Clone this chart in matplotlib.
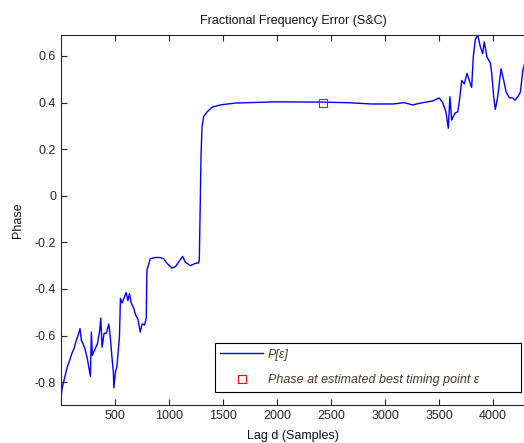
import matplotlib
matplotlib.use("Agg")
import matplotlib.pyplot as plt
from matplotlib.ticker import FuncFormatter

plt.rcParams['font.family'] = ['Liberation Sans', 'DejaVu Sans']

# Lag (samples) and phase values
lag = [1, 10, 35, 59, 82, 103, 122, 143, 165, 177, 189, 205, 221, 245, 258,
       273, 282, 291, 314, 338, 360, 369, 381, 400, 421, 443, 456, 471, 486,
       490, 505, 518, 530, 542, 551, 567, 588, 604, 620, 635, 650, 672, 690,
       713, 734, 752, 774, 790, 796, 827, 873, 919, 950, 982, 1028, 1059,
       1089, 1126, 1151, 1198, 1244, 1275, 1281, 1288, 1297, 1306, 1321, 1353,
       1399, 1476, 1615, 1986, 2422, 2682, 2867, 3081, 3174, 3254, 3331, 3440,
       3501, 3533, 3563, 3585, 3600, 3616, 3647, 3672, 3686, 3709, 3733, 3758,
       3779, 3801, 3816, 3835, 3857, 3881, 3903, 3918, 3943, 3974, 3987, 4005,
       4020, 4042, 4073, 4098, 4120, 4151, 4182, 4203, 4228, 4252, 4275, 4296]
phase = [-0.87, -0.83, -0.78, -0.735, -0.705, -0.675, -0.655, -0.62, -0.59,
         -0.57, -0.62, -0.635, -0.655, -0.70, -0.735, -0.775, -0.585, -0.685,
         -0.66, -0.635, -0.575, -0.525, -0.65, -0.59, -0.59, -0.55, -0.60,
         -0.685, -0.76, -0.825, -0.755, -0.735, -0.67, -0.605, -0.44, -0.46,
         -0.435, -0.415, -0.45, -0.42, -0.46, -0.48, -0.51, -0.53, -0.585,
         -0.55, -0.555, -0.525, -0.32, -0.27, -0.265, -0.265, -0.27, -0.29,
         -0.31, -0.305, -0.285, -0.26, -0.285, -0.30, -0.29, -0.288, -0.275,
         -0.075, 0.18, 0.295, 0.34, 0.36, 0.38, 0.39, 0.398, 0.403, 0.402,
         0.399, 0.394, 0.394, 0.40, 0.39, 0.398, 0.407, 0.42, 0.40, 0.36, 0.29,
         0.425, 0.325, 0.355, 0.36, 0.40, 0.495, 0.48, 0.525, 0.495, 0.465,
         0.595, 0.67, 0.69, 0.64, 0.61, 0.66, 0.595, 0.57, 0.525, 0.425, 0.37,
         0.425, 0.545, 0.495, 0.445, 0.42, 0.42, 0.41, 0.425, 0.445, 0.54,
         0.575]

best_lag = [2421]
best_phase = [0.40]

xticks = [500, 1000, 1500, 2000, 2500, 3000, 3500, 4000]
yticks = [-0.8, -0.6, -0.4, -0.2, 0, 0.2, 0.4, 0.6]

fig = plt.figure(figsize=(5.24, 4.43), dpi=100)
ax = fig.add_axes([61/524, 1 - 405/443, 1.003 - 61/524, 370/443])

ax.plot(lag, phase, color=(0, 0, 1), lw=1.0, label='P[ε]')
ax.plot(best_lag, best_phase, 's', ms=6, mfc='none', mec=(1, 0, 0), mew=0.8,
        label='Phase at estimated best timing point ε')

ax.set_xlim(1, 4300)
ax.set_ylim(-0.898, 0.69)
ax.set_xticks(xticks)
ax.set_yticks(yticks)
ax.yaxis.set_major_formatter(FuncFormatter(lambda v, p: ('%g' % round(v, 2)).replace('\u2212', '-')))

axis_col = '#262626'
for s in ['left', 'bottom', 'top']:
    ax.spines[s].set_color(axis_col)
    ax.spines[s].set_linewidth(0.8)
ax.spines['right'].set_visible(False)
ax.tick_params(direction='in', length=4, width=0.8, colors=axis_col,
               labelsize=9, top=True, right=False, labelcolor='#262626')

ax.set_title('Fractional Frequency Error (S&C)', fontsize=9, color='#111111', pad=8)
ax.set_xlabel('Lag d (Samples)', fontsize=9, color='#111111', labelpad=6)
ax.set_ylabel('Phase', fontsize=9, color='#111111', labelpad=8)

leg = ax.legend(loc='lower left', bbox_to_anchor=(0.331, 0.035, 0.659, 0.133),
                mode='expand', borderaxespad=0, fancybox=False, framealpha=1,
                edgecolor='black', prop={'style': 'italic', 'size': 9},
                handlelength=3.4, handletextpad=0.4, borderpad=0.45,
                labelspacing=1.1)
leg.get_frame().set_linewidth(0.8)
for t in leg.get_texts():
    t.set_color('#4a3828')

fig.savefig('out.png', dpi=100)
